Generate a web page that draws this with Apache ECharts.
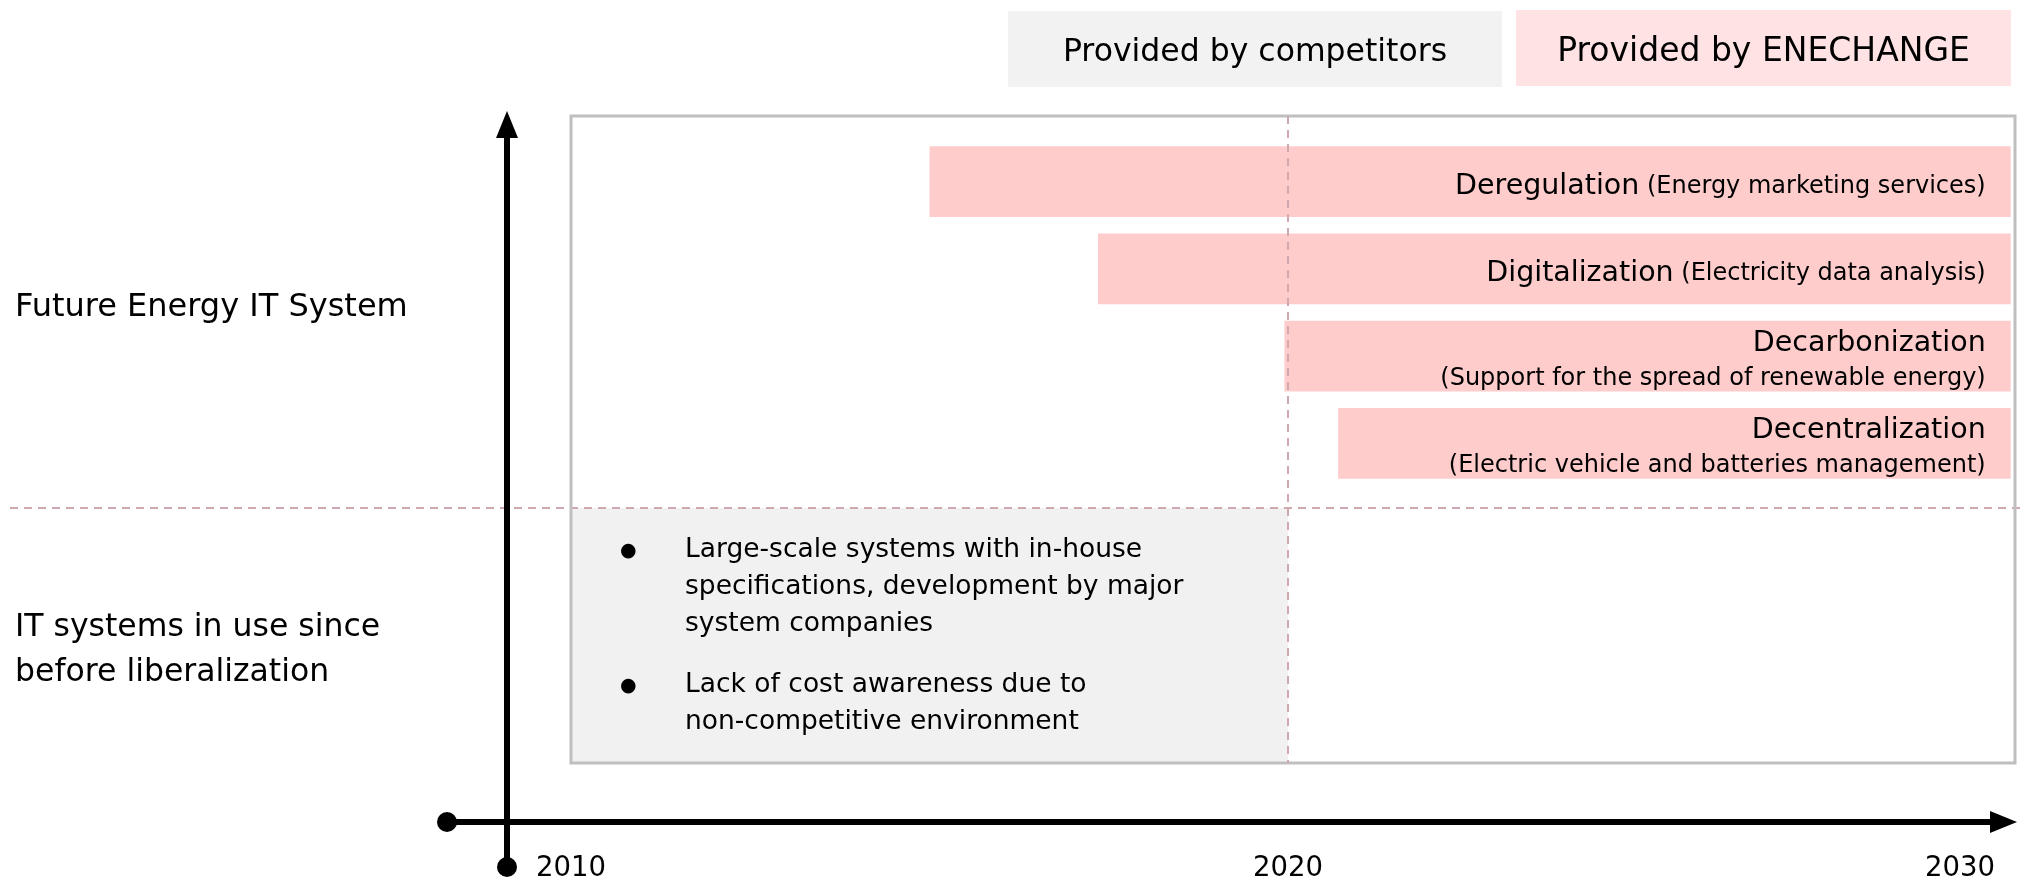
<!DOCTYPE html>
<html>
<head>
<meta charset="utf-8">
<script src="https://cdn.jsdelivr.net/npm/echarts@6/dist/echarts.min.js"></script>
<style>
  html, body { margin: 0; padding: 0; background: #fff; }
  #chart { width: 2025px; height: 883px; }
</style>
</head>
<body>
<div id="chart"></div>
<script>
// ---- data -------------------------------------------------------------
const tickYears = [2010, 2020, 2030];
const xMin = 2010;
const xMax = 2030.14;

const initiatives = ['Deregulation', 'Digitalization', 'Decarbonization', 'Decentralization'];
const initiativeNotes = [
  '(Energy marketing services)',
  '(Electricity data analysis)',
  '(Support for the spread of renewable energy)',
  '(Electric vehicle and batteries management)'
];
const initiativeStart = [2015.0, 2017.35, 2019.95, 2020.7];
const initiativeEnd = [2030.08, 2030.08, 2030.08, 2030.08];
const noteOnNewLine = [false, false, true, true];

const legacyPeriod = [2010, 2020];
const legacyPoints = [
  ['Large-scale systems with in-house', 'specifications, development by major', 'system companies'],
  ['Lack of cost awareness due to', 'non-competitive environment']
];

const eraLabels = ['Future Energy IT System', 'IT systems in use since\nbefore liberalization'];
const legendItems = ['Provided by competitors', 'Provided by ENECHANGE'];
const dividerYear = 2020;

// ---- layout & style ---------------------------------------------------
const FONT = 'DejaVu Sans';
const L = {
  boxLeft: 571, boxTop: 116, boxWidth: 1444, boxHeight: 647,
  barsTop: 138, barsHeight: 349, barRatio: 0.813,
  eraBoundary: 0.606,            // fraction of the box height where the legacy era starts
  futureLabelAt: 0.296, legacyLabelAt: 0.826,
  yAxisX: 507, yAxisTop: 111, yAxisBottom: 867,
  xAxisY: 822, xAxisLeft: 447, xAxisRight: 2017,
  arrowLen: 27, arrowHalf: 11, dotR: 10, axisWidth: 6
};
const C = {
  ours: '#ffcccc', oursLegend: '#ffe3e4', theirs: '#f2f2f2', legacy: '#f1f1f1',
  border: '#bfbfbf', dash: '#cfa9ae', ink: '#000000'
};

// ---- chart ------------------------------------------------------------
const chart = echarts.init(document.getElementById('chart'), null, { renderer: 'canvas' });

function barText(i) {
  return '{big|' + initiatives[i] + '}' + (noteOnNewLine[i] ? '\n' : '{small| }') + '{small|' + initiativeNotes[i] + '}';
}

function bulletText() {
  const lines = [];
  legacyPoints.forEach((point, p) => {
    if (p > 0) lines.push('{gap| }');
    point.forEach((line, k) => {
      lines.push('{bul|' + (k === 0 ? '●' : ' ') + '}{txt|' + line + '}');
    });
  });
  return lines.join('\n');
}

const lastTick = tickYears[tickYears.length - 1];

const option = {
  backgroundColor: '#ffffff',
  animation: false,
  textStyle: { fontFamily: FONT },
  grid: [
    { left: L.boxLeft, top: L.boxTop, width: L.boxWidth, height: L.boxHeight,
      show: true, borderColor: C.border, borderWidth: 3, backgroundColor: 'transparent', z: 5 },
    { left: L.boxLeft, top: L.barsTop, width: L.boxWidth, height: L.barsHeight }
  ],
  xAxis: [
    { gridIndex: 0, type: 'value', min: xMin, max: xMax,
      axisLine: { show: false }, axisTick: { show: false }, splitLine: { show: false },
      axisLabel: { customValues: tickYears, fontSize: 27.5, color: C.ink, fontFamily: FONT,
                   margin: 92, alignMaxLabel: 'right',
                   formatter: v => (v === lastTick ? '{last|' + v + '}' : String(v)),
                   rich: { last: { fontSize: 27.5, fontFamily: FONT, color: C.ink, padding: [0, 10, 0, 0] } } } },
    { gridIndex: 1, type: 'value', min: xMin, max: xMax, show: false }
  ],
  yAxis: [
    { gridIndex: 0, type: 'value', inverse: true, min: 0, max: 1, show: false },
    { gridIndex: 1, type: 'category', inverse: true, data: initiatives, show: false }
  ],
  series: [
    {
      // legacy systems block and the 2020 divider
      type: 'scatter', xAxisIndex: 0, yAxisIndex: 0, data: [], silent: true,
      markArea: {
        silent: true,
        itemStyle: { color: C.legacy },
        label: {
          show: true, position: [49, 24], color: C.ink, fontFamily: FONT,
          formatter: bulletText(),
          rich: {
            bul: { fontSize: 19, width: 65, lineHeight: 37, fontFamily: FONT, color: C.ink },
            txt: { fontSize: 26.5, lineHeight: 37, fontFamily: FONT, color: C.ink },
            gap: { fontSize: 10, lineHeight: 24 }
          }
        },
        data: [[{ xAxis: legacyPeriod[0], yAxis: L.eraBoundary }, { xAxis: legacyPeriod[1], yAxis: 1 }]]
      },
      markLine: {
        silent: true, symbol: 'none', label: { show: false },
        lineStyle: { color: C.dash, type: [8, 6], width: 2 },
        data: [{ xAxis: dividerYear }]
      }
    },
    {
      // initiatives offered as ENECHANGE services
      type: 'custom', xAxisIndex: 1, yAxisIndex: 1,
      data: initiatives.map((n, i) => [initiativeStart[i], initiativeEnd[i], i]),
      encode: { x: [0, 1], y: 2 },
      renderItem(params, api) {
        const i = api.value(2);
        const p0 = api.coord([api.value(0), i]);
        const p1 = api.coord([api.value(1), i]);
        const h = api.size([0, 1])[1] * L.barRatio;
        return {
          type: 'rect',
          shape: { x: p0[0], y: p0[1] - h / 2, width: p1[0] - p0[0], height: h },
          style: { fill: C.ours },
          textContent: {
            style: {
              text: barText(i), align: 'right', fontFamily: FONT,
              rich: {
                big: { fontSize: 28.5, lineHeight: 35, fontFamily: FONT, fill: C.ink, align: 'right' },
                small: { fontSize: 24, lineHeight: 35, fontFamily: FONT, fill: C.ink, align: 'right' }
              }
            }
          },
          textConfig: { position: 'insideRight', distance: 25, offset: [0, 5] }
        };
      }
    }
  ]
};

chart.setOption(option);

// ---- frame decorations: era divider, axes arrows, legend, era labels --
const dividerY = chart.convertToPixel({ yAxisIndex: 0 }, L.eraBoundary);
const futureY = chart.convertToPixel({ yAxisIndex: 0 }, L.futureLabelAt);
const legacyY = chart.convertToPixel({ yAxisIndex: 0 }, L.legacyLabelAt);

const graphics = [
  { type: 'line', silent: true, z: 1,
    shape: { x1: 10, y1: dividerY, x2: 2025, y2: dividerY },
    style: { stroke: C.dash, lineWidth: 2, lineDash: [8, 6] } },

  // vertical axis
  { type: 'line', z: 10, shape: { x1: L.yAxisX, y1: L.yAxisBottom, x2: L.yAxisX, y2: L.yAxisTop + L.arrowLen - 2 },
    style: { stroke: C.ink, lineWidth: L.axisWidth } },
  { type: 'polygon', z: 10, shape: { points: [[L.yAxisX - L.arrowHalf, L.yAxisTop + L.arrowLen], [L.yAxisX + L.arrowHalf, L.yAxisTop + L.arrowLen], [L.yAxisX, L.yAxisTop]] },
    style: { fill: C.ink } },
  { type: 'circle', z: 10, shape: { cx: L.yAxisX, cy: L.yAxisBottom, r: L.dotR }, style: { fill: C.ink } },

  // horizontal axis
  { type: 'line', z: 10, shape: { x1: L.xAxisLeft, y1: L.xAxisY, x2: L.xAxisRight - L.arrowLen + 2, y2: L.xAxisY },
    style: { stroke: C.ink, lineWidth: L.axisWidth } },
  { type: 'polygon', z: 10, shape: { points: [[L.xAxisRight - L.arrowLen, L.xAxisY - L.arrowHalf], [L.xAxisRight - L.arrowLen, L.xAxisY + L.arrowHalf], [L.xAxisRight, L.xAxisY]] },
    style: { fill: C.ink } },
  { type: 'circle', z: 10, shape: { cx: L.xAxisLeft, cy: L.xAxisY, r: L.dotR }, style: { fill: C.ink } },

  // legend
  { type: 'rect', shape: { x: 1008, y: 11, width: 494, height: 76 }, style: { fill: C.theirs },
    textContent: { style: { text: legendItems[0], fontSize: 31.5, fontFamily: FONT, fill: C.ink } },
    textConfig: { position: 'inside', offset: [0, 4] } },
  { type: 'rect', shape: { x: 1516, y: 10, width: 495, height: 76 }, style: { fill: C.oursLegend },
    textContent: { style: { text: legendItems[1], fontSize: 33, fontFamily: FONT, fill: C.ink } },
    textConfig: { position: 'inside', offset: [0, 4] } },

  // era labels
  { type: 'text', x: 15, y: futureY,
    style: { text: eraLabels[0], fontSize: 32, fontFamily: FONT, fill: C.ink, verticalAlign: 'middle' } },
  { type: 'text', x: 15, y: legacyY,
    style: { text: eraLabels[1], fontSize: 31.5, lineHeight: 45, fontFamily: FONT, fill: C.ink, verticalAlign: 'middle' } }
];

chart.setOption({ graphic: graphics });
</script>
</body>
</html>
